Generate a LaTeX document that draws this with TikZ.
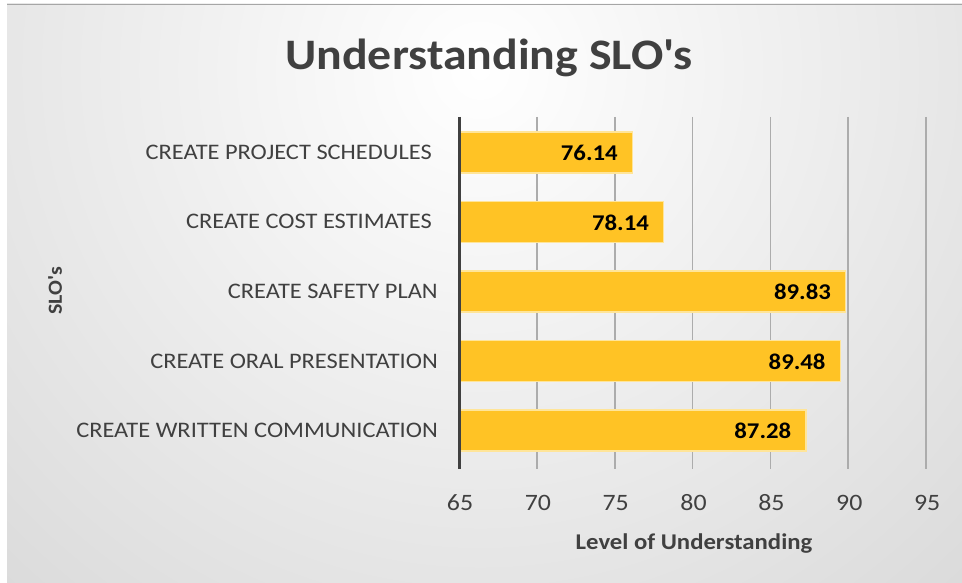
\documentclass[tikz,border=0pt]{standalone}
\usepackage{fontspec}
\setmainfont[FakeStretch=1.1]{Carlito}
\usepackage{xcolor}
\definecolor{bargold}{RGB}{255,195,37}
\definecolor{barrim}{RGB}{255,229,153}
\definecolor{txtgray}{RGB}{64,64,64}
\definecolor{gridgray}{RGB}{172,172,172}
\definecolor{bgedge}{RGB}{196,196,196}

\begin{document}
\begin{tikzpicture}[x=1pt,y=-1pt,
    catlabel/.style={anchor=base east,text=txtgray,inner sep=0pt,font=\fontsize{22.2}{23}\selectfont},
    ticklabel/.style={anchor=base,text=txtgray,inner sep=0pt,font=\fontsize{23.5}{24}\selectfont},
    barlabel/.style={anchor=base east,inner sep=0pt,font=\fontsize{22.5}{23}\selectfont\bfseries},
    bar/.style={fill=bargold,draw=barrim,line width=1.2pt},
    gridline/.style={gridgray,line width=1.8pt}]
    \useasboundingbox (0,0) rectangle (962,583);

    % background
    \begin{scope}
    \clip (7,4) rectangle (962,583);
    \shade[inner color=white,outer color=bgedge] (480,70) circle (1150);
    \end{scope}
    \draw[gray!70,line width=1pt] (7,4.5)--(962,4.5);

    \node[anchor=base,text=txtgray,inner sep=0pt,font=\fontsize{43.5}{44}\selectfont\bfseries] (title) at (489,70) {Understanding SLO\textquotesingle s};

    % grid
    \draw[gridline] (536.85,117)--(536.85,469);
    \draw[gridline] (614.7,117)--(614.7,469);
    \draw[gridline] (692.55,117)--(692.55,469);
    \draw[gridline] (770.4,117)--(770.4,469);
    \draw[gridline] (848.25,117)--(848.25,469);
    \draw[gridline] (926.1,117)--(926.1,469);

    % bars
    \draw[bar] (460.5,132) rectangle (632.4,173);
    \draw[bar] (460.5,201.5) rectangle (663.6,242.5);
    \draw[bar] (460.5,271) rectangle (845.6,312);
    \draw[bar] (460.5,340.5) rectangle (840.2,381.5);
    \draw[bar] (460.5,410) rectangle (805.9,451);

    \draw[txtgray,line width=3pt] (459,117)--(459,469);

    \node[barlabel] (v1) at (617.9,160.5) {76.14};
    \node[barlabel] (v2) at (649.1,230) {78.14};
    \node[barlabel] (v3) at (831.1,299.5) {89.83};
    \node[barlabel] (v4) at (825.7,369) {89.48};
    \node[barlabel] (v5) at (791.4,438.5) {87.28};

    \node[catlabel] (c1) at (432,159.5) {CREATE PROJECT SCHEDULES};
    \node[catlabel] (c2) at (432,229) {CREATE COST ESTIMATES};
    \node[catlabel] (c3) at (438,298.5) {CREATE SAFETY PLAN};
    \node[catlabel] (c4) at (438,368) {CREATE ORAL PRESENTATION};
    \node[catlabel] (c5) at (438,437.5) {CREATE WRITTEN COMMUNICATION};

    \node[ticklabel] (t65) at (460,510.6) {65};
    \node[ticklabel] (t70) at (537.85,510.6) {70};
    \node[ticklabel] (t75) at (615.7,510.6) {75};
    \node[ticklabel] (t80) at (693.55,510.6) {80};
    \node[ticklabel] (t85) at (771.4,510.6) {85};
    \node[ticklabel] (t90) at (849.25,510.6) {90};
    \node[ticklabel] (t95) at (927.1,510.6) {95};

    \node[anchor=base,text=txtgray,inner sep=0pt,font=\fontsize{22.5}{23}\selectfont\bfseries] (xtitle) at (694,549) {Level of Understanding};
    \node[rotate=90,text=txtgray,inner sep=0pt,font=\fontsize{20}{21}\selectfont\bfseries] (ytitle) at (55,291) {SLO\textquotesingle s};
\end{tikzpicture}
\end{document}
